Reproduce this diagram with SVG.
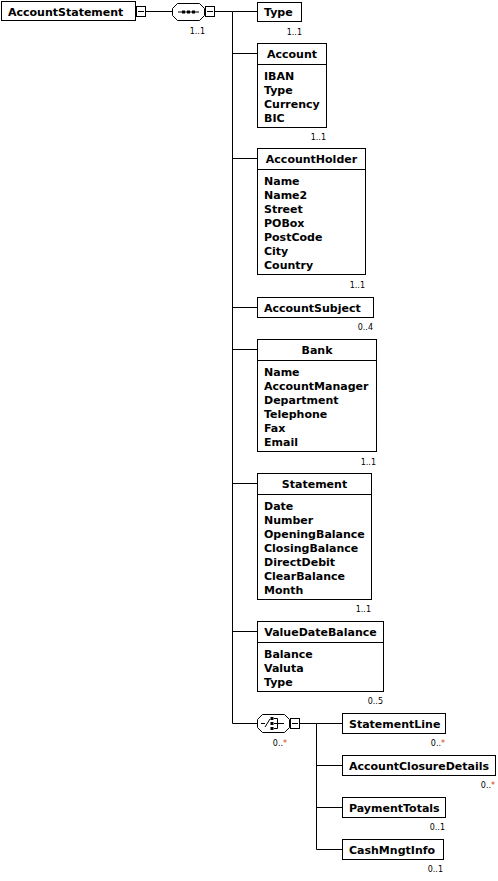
<svg xmlns="http://www.w3.org/2000/svg" width="498" height="881" viewBox="0 0 498 881">
<style>
.bx{fill:#fff;stroke:#000;stroke-width:1}
.ln{stroke:#000;stroke-width:1;fill:none}
.t{font-family:"DejaVu Sans",Verdana,sans-serif;font-size:11px;font-weight:bold;fill:#000}
.h{text-anchor:middle}
.c{font-family:"DejaVu Sans",Verdana,sans-serif;font-size:8px;fill:#000;text-anchor:end}
.s{fill:#d04000}
</style>
<rect width="498" height="881" fill="#fff"/>
<g id="connectors" class="ln">
<path d="M145,11.5H172M215,11.5H232.5M232.5,11.5V723.5M232.5,11.5H257.5M232.5,53.5H257.5M232.5,158.5H257.5M232.5,307.5H257.5M232.5,349.5H257.5M232.5,483.5H257.5M232.5,631.5H257.5M232.5,723.5H257M300,723.5H316.5V849.5M316.5,723.5H342M316.5,765.5H342M316.5,807.5H342M316.5,849.5H342"/>
</g>
<g id="AccountStatement">
<rect class="bx" x="1.5" y="1.5" width="134" height="19"/>
<text class="t" x="8" y="15.5">AccountStatement</text>
<rect class="bx" x="136.5" y="6.5" width="9" height="10"/>
<path class="ln" d="M138,11.5H144"/>
</g>
<g id="sequence">
<path class="bx" d="M177.5,3.5H199.5L204.5,8.5V15.5L199.5,20.5H177.5L172.5,15.5V8.5Z"/>
<path class="ln" d="M178,12H199"/>
<rect x="182" y="10.5" width="3" height="3"/><rect x="187" y="10.5" width="3" height="3"/><rect x="192" y="10.5" width="3" height="3"/>
<rect class="bx" x="205.5" y="6.5" width="9" height="10"/>
<path class="ln" d="M207,11.5H213"/>
<text class="c" x="205" y="34">1..1</text>
</g>
<g id="Type">
<rect class="bx" x="257.5" y="2.5" width="44" height="19"/>
<text class="t" x="264" y="16">Type</text>
<text class="c" x="302" y="35">1..1</text>
</g>
<g id="Account">
<rect class="bx" x="257.5" y="43.5" width="69" height="84"/>
<path class="ln" d="M257.5,64.5H326.5"/>
<text class="t h" x="292" y="58">Account</text>
<text class="t" x="264" y="80">IBAN</text>
<text class="t" x="264" y="94">Type</text>
<text class="t" x="264" y="108">Currency</text>
<text class="t" x="264" y="122">BIC</text>
<text class="c" x="326" y="140">1..1</text>
</g>
<g id="AccountHolder">
<rect class="bx" x="257.5" y="148.5" width="108" height="126"/>
<path class="ln" d="M257.5,169.5H365.5"/>
<text class="t h" x="311.5" y="163">AccountHolder</text>
<text class="t" x="264" y="185">Name</text>
<text class="t" x="264" y="199">Name2</text>
<text class="t" x="264" y="213">Street</text>
<text class="t" x="264" y="227">POBox</text>
<text class="t" x="264" y="241">PostCode</text>
<text class="t" x="264" y="255">City</text>
<text class="t" x="264" y="269">Country</text>
<text class="c" x="365" y="288">1..1</text>
</g>
<g id="AccountSubject">
<rect class="bx" x="257.5" y="297.5" width="116" height="20"/>
<text class="t" x="264" y="312">AccountSubject</text>
<text class="c" x="373" y="330">0..4</text>
</g>
<g id="Bank">
<rect class="bx" x="257.5" y="339.5" width="119" height="112"/>
<path class="ln" d="M257.5,360.5H376.5"/>
<text class="t h" x="317" y="354">Bank</text>
<text class="t" x="264" y="376">Name</text>
<text class="t" x="264" y="390">AccountManager</text>
<text class="t" x="264" y="404">Department</text>
<text class="t" x="264" y="418">Telephone</text>
<text class="t" x="264" y="432">Fax</text>
<text class="t" x="264" y="446">Email</text>
<text class="c" x="376" y="465">1..1</text>
</g>
<g id="Statement">
<rect class="bx" x="257.5" y="473.5" width="114" height="126"/>
<path class="ln" d="M257.5,494.5H371.5"/>
<text class="t h" x="314.5" y="488">Statement</text>
<text class="t" x="264" y="510">Date</text>
<text class="t" x="264" y="524">Number</text>
<text class="t" x="264" y="538">OpeningBalance</text>
<text class="t" x="264" y="552">ClosingBalance</text>
<text class="t" x="264" y="566">DirectDebit</text>
<text class="t" x="264" y="580">ClearBalance</text>
<text class="t" x="264" y="594">Month</text>
<text class="c" x="371" y="612">1..1</text>
</g>
<g id="ValueDateBalance">
<rect class="bx" x="257.5" y="621.5" width="126" height="70"/>
<path class="ln" d="M257.5,642.5H383.5"/>
<text class="t h" x="320.5" y="636">ValueDateBalance</text>
<text class="t" x="264" y="658">Balance</text>
<text class="t" x="264" y="672">Valuta</text>
<text class="t" x="264" y="686">Type</text>
<text class="c" x="383" y="704">0..5</text>
</g>
<g id="choice">
<path class="bx" d="M262.5,714.5H284.5L289.5,719.5V727.5L284.5,732.5H262.5L257.5,727.5V719.5Z"/>
<path class="ln" d="M261,723.5H265M265,727L270,719M274,718.5H277.5V728.5H274M274,723.5H284"/>
<rect x="270.5" y="717" width="3" height="3"/><rect x="270.5" y="722" width="3" height="3"/><rect x="270.5" y="727" width="3" height="3"/>
<rect class="bx" x="290.5" y="718.5" width="9" height="10"/>
<path class="ln" d="M292,723.5H298"/>
<text class="c" x="287" y="746">0..<tspan class="s">*</tspan></text>
</g>
<g id="StatementLine">
<rect class="bx" x="342.5" y="713.5" width="103" height="20"/>
<text class="t" x="349" y="728">StatementLine</text>
<text class="c" x="445" y="746">0..<tspan class="s">*</tspan></text>
</g>
<g id="AccountClosureDetails">
<rect class="bx" x="342.5" y="755.5" width="153" height="20"/>
<text class="t" x="349" y="770">AccountClosureDetails</text>
<text class="c" x="495" y="788">0..<tspan class="s">*</tspan></text>
</g>
<g id="PaymentTotals">
<rect class="bx" x="342.5" y="797.5" width="103" height="20"/>
<text class="t" x="349" y="812">PaymentTotals</text>
<text class="c" x="445" y="830">0..1</text>
</g>
<g id="CashMngtInfo">
<rect class="bx" x="342.5" y="839.5" width="101" height="20"/>
<text class="t" x="349" y="854">CashMngtInfo</text>
<text class="c" x="443" y="872">0..1</text>
</g>
</svg>
